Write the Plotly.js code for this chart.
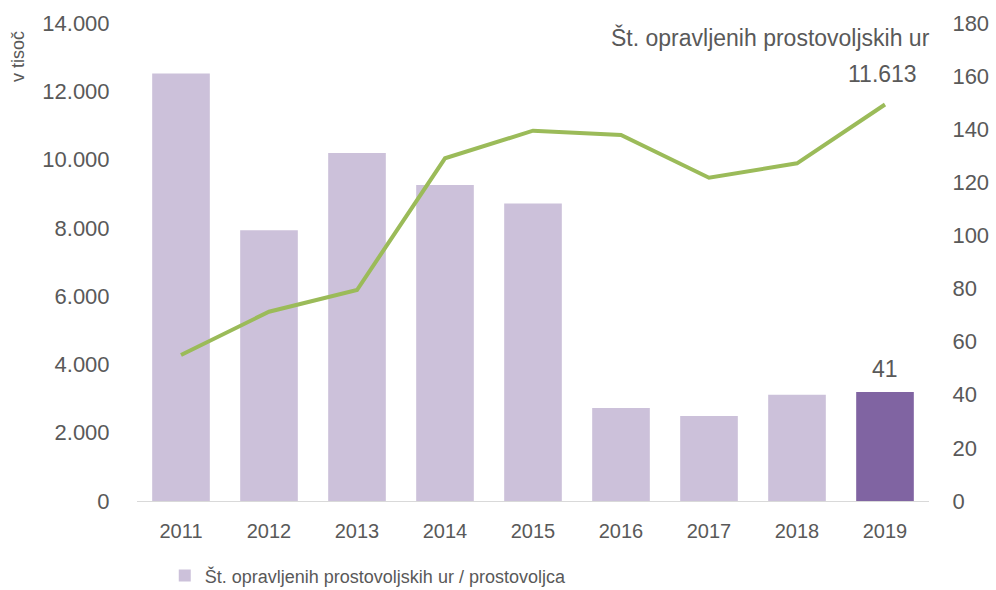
<!DOCTYPE html>
<html>
<head>
<meta charset="utf-8">
<script src="https://cdn.plot.ly/plotly-3.0.1.min.js"></script>
<style>
  html, body { margin: 0; padding: 0; background: #fff; }
  #chart { width: 996px; height: 590px; }
</style>
</head>
<body>
<div id="chart"></div>
<script>
/* -------------------- DATA -------------------- */

const years = ['2011', '2012', '2013', '2014', '2015', '2016', '2017', '2018', '2019'];

// ur na prostovoljca (desna os)
const hoursPerVolunteer = [161, 102, 131, 119, 112, 35, 32, 40, 41];

// opravljene prostovoljske ure, v tisoč (leva os)
const hoursTotal = [4276, 5544, 6180, 10037, 10846, 10720, 9469, 9891, 11613];

const barLegendName = 'Št. opravljenih prostovoljskih ur / prostovoljca';
const lineLabel = 'Št. opravljenih prostovoljskih ur';
const leftAxisLabel = 'v tisoč';

/* -------------------- STYLE -------------------- */

const TEXT = '#595959';
const BAR_LIGHT = '#CCC1DA';
const BAR_DARK = '#8064A2';
const LINE_GREEN = '#9BBB59';
const FONT = 'Liberation Sans, Arial, sans-serif';

const last = years.length - 1;
const barColors = years.map((y, i) => i === last ? BAR_DARK : BAR_LIGHT);

const bars = {
  type: 'bar',
  x: years,
  y: hoursPerVolunteer,
  yaxis: 'y',
  name: barLegendName,
  marker: { color: barColors },
  width: 0.655,
  hoverinfo: 'x+y'
};

const line = {
  type: 'scatter',
  mode: 'lines',
  x: years,
  y: hoursTotal,
  yaxis: 'y2',
  name: lineLabel,
  showlegend: false,
  line: { color: LINE_GREEN, width: 4 }
};

const layout = {
  width: 996,
  height: 590,
  margin: { l: 137, r: 67, t: 23, b: 89, autoexpand: false },
  paper_bgcolor: '#fff',
  plot_bgcolor: '#fff',
  separators: ',.',
  font: { family: FONT, color: TEXT, size: 20 },
  xaxis: {
    type: 'category',
    range: [-0.5, years.length - 0.5],
    showgrid: false,
    showline: true,
    linecolor: '#D9D9D9',
    linewidth: 1,
    ticks: 'outside',
    ticklen: 12,
    tickcolor: 'rgba(0,0,0,0)',
    tickfont: { size: 20, color: TEXT }
  },
  yaxis: {
    side: 'right',
    range: [0, 180],
    dtick: 20,
    showgrid: false,
    zeroline: false,
    showline: false,
    ticks: 'outside',
    ticklen: 18,
    tickcolor: 'rgba(0,0,0,0)',
    tickfont: { size: 22, color: TEXT }
  },
  yaxis2: {
    overlaying: 'y',
    side: 'left',
    range: [0, 14000],
    dtick: 2000,
    tickformat: ',d',
    showgrid: false,
    zeroline: false,
    showline: false,
    ticks: 'outside',
    ticklen: 22,
    tickcolor: 'rgba(0,0,0,0)',
    tickfont: { size: 22, color: TEXT }
  },
  showlegend: true,
  legend: {
    orientation: 'h',
    x: 0.292,
    xanchor: 'center',
    y: -0.118,
    yanchor: 'top',
    itemwidth: 30,
    font: { size: 18, color: TEXT }
  },
  annotations: [
    {
      x: last, y: hoursPerVolunteer[last], xref: 'x', yref: 'y',
      text: String(hoursPerVolunteer[last]),
      showarrow: false, yanchor: 'bottom', yshift: 8,
      font: { size: 23, color: TEXT }
    },
    {
      x: last, y: hoursTotal[last], xref: 'x', yref: 'y2',
      text: hoursTotal[last].toLocaleString('de-DE'),
      showarrow: false, yanchor: 'bottom', yshift: 16, xshift: -3,
      font: { size: 23, color: TEXT }
    },
    {
      x: 932, y: 37, xref: 'paper', yref: 'paper',
      text: lineLabel,
      showarrow: false, xanchor: 'right', yanchor: 'middle',
      font: { size: 23, color: TEXT }
    },
    {
      x: 18, y: 57, xref: 'paper', yref: 'paper',
      text: leftAxisLabel, textangle: -90,
      showarrow: false, xanchor: 'center', yanchor: 'middle',
      font: { size: 18, color: TEXT }
    }
  ]
};

// the two static texts are placed in pixels, convert to paper coordinates
const plotW = layout.width - layout.margin.l - layout.margin.r;
const plotH = layout.height - layout.margin.t - layout.margin.b;
layout.annotations.slice(2).forEach(a => {
  a.x = (a.x - layout.margin.l) / plotW;
  a.y = (layout.height - layout.margin.b - a.y) / plotH;
});

Plotly.newPlot('chart', [bars, line], layout, { displayModeBar: false, staticPlot: true });
</script>
</body>
</html>
